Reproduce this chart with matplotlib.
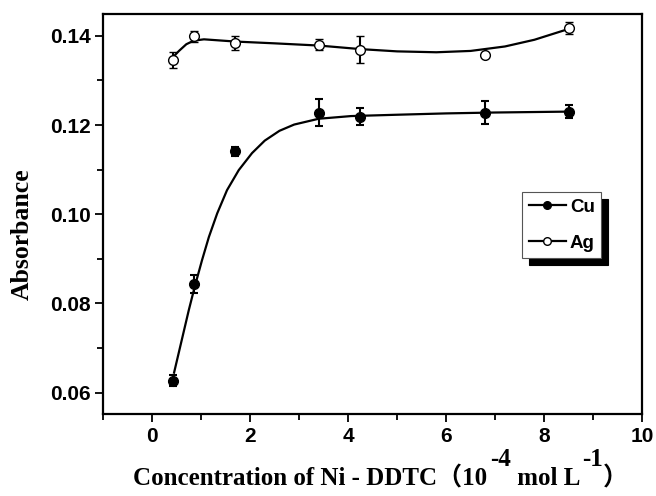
import numpy as np
import matplotlib
matplotlib.use("Agg")
import matplotlib.pyplot as plt
from matplotlib.patches import Shadow

# concentration of Ni-DDTC (1e-4 mol/L)
conc = [0.425, 0.85, 1.7, 3.4, 4.25, 6.8, 8.5]

# measured absorbance with error bars
cu_abs = [0.0627, 0.0843, 0.1141, 0.1228, 0.1219, 0.1228, 0.1230]
cu_err = [0.0012, 0.0020, 0.0010, 0.0030, 0.0020, 0.0025, 0.0015]
ag_abs = [0.1346, 0.1399, 0.1384, 0.1380, 0.1369, 0.1357, 0.1417]
ag_err = [0.0018, 0.0012, 0.0015, 0.0012, 0.0030, 0.0005, 0.0014]

# fitted curves
cu_fit_x = [0.45, 0.6, 0.75, 0.87, 1.02, 1.16, 1.33, 1.53, 1.77, 2.04, 2.3, 2.6,
            2.9, 3.4, 4.06, 5.0, 6.0, 7.0, 8.5]
cu_fit_y = [0.0645, 0.0715, 0.0785, 0.0837, 0.0897, 0.0949, 0.1002, 0.1054, 0.1099,
            0.1137, 0.1165, 0.1187, 0.1201, 0.1214, 0.1220, 0.1223, 0.1226, 0.1228, 0.1230]
ag_fit_x = [0.41, 0.55, 0.7, 0.85, 1.06, 1.7, 2.5, 3.41, 4.26, 5.0, 5.8, 6.5, 7.2, 7.8, 8.52]
ag_fit_y = [0.1350, 0.1366, 0.1381, 0.1389, 0.1392, 0.1387, 0.1383, 0.1378, 0.1370, 0.1365,
            0.1363, 0.1366, 0.1376, 0.1391, 0.1416]

xticks = [0, 2, 4, 6, 8, 10]
yticks = [0.06, 0.08, 0.10, 0.12, 0.14]

serif = ['Liberation Serif', 'Noto Sans CJK SC']
plt.rcParams['font.family'] = ['Liberation Sans', 'DejaVu Sans']
plt.rcParams['font.weight'] = 'bold'

fig = plt.figure(figsize=(6.56, 4.96), dpi=100)
ax = fig.add_axes([0.157, 0.165, 0.822, 0.807])

ax.plot(cu_fit_x, cu_fit_y, color='black', lw=1.6, zorder=2)
ax.plot(ag_fit_x, ag_fit_y, color='black', lw=1.6, zorder=2)
ax.errorbar(conc, cu_abs, yerr=cu_err, fmt='o', color='black', ms=7,
            capsize=3, elinewidth=1.5, capthick=1.5, zorder=3)
ax.errorbar(conc, ag_abs, yerr=ag_err, fmt='o', color='black', mfc='white', mec='black',
            mew=1.0, ms=7, capsize=3, elinewidth=1.5, capthick=1.5, zorder=3)

# legend handles (line + marker)
h_cu, = ax.plot([], [], '-o', color='black', lw=1.6, ms=5.5, label='Cu')
h_ag, = ax.plot([], [], '-o', color='black', mfc='white', mec='black', mew=1.0,
                lw=1.6, ms=5.5, label='Ag')
leg = ax.legend(handles=[h_cu, h_ag], loc='upper left', bbox_to_anchor=(0.777, 0.555),
                borderaxespad=0, fancybox=False, frameon=True, framealpha=1,
                edgecolor='#555555', handlelength=2.0, handletextpad=0.2,
                borderpad=0.35, labelspacing=1.0, prop={'size': 13.5, 'weight': 'bold'})
leg.get_frame().set_linewidth(0.8)
leg.set_zorder(6)

ax.set_xlim(-1, 10)
ax.set_ylim(0.0552, 0.1449)
ax.set_xticks(xticks)
ax.set_yticks(yticks)
ax.set_xticks([-1, 1, 3, 5, 7, 9], minor=True)
ax.set_yticks([0.07, 0.09, 0.11, 0.13], minor=True)
ax.set_yticklabels(['%.2f' % v for v in yticks])
ax.tick_params(which='major', direction='out', length=6, width=1.3, labelsize=15, pad=3)
ax.tick_params(which='minor', direction='out', length=4, width=1.3)
ax.tick_params(top=False, right=False)
for s in ax.spines.values():
    s.set_linewidth(1.6)

ax.set_ylabel('Absorbance', family=serif, fontsize=18.5, fontweight='bold')
ax.yaxis.set_label_coords(-0.128, 0.45)

# x label built from pieces so the exponents sit raised
base_y = 1 - 485 / 496
lbl = dict(family=serif, fontsize=18, fontweight='bold')
t1 = ax.text(0.203, base_y, 'Concentration of Ni - DDTC（10', transform=fig.transFigure,
             va='baseline', ha='left', **lbl)
s1 = ax.annotate('-4', xy=(1, base_y), xycoords=(t1, 'figure fraction'), xytext=(2, 14),
                 textcoords='offset points', va='baseline', ha='left', annotation_clip=False, **lbl)
t2 = ax.annotate(' mol L', xy=(1, base_y), xycoords=(s1, 'figure fraction'), xytext=(0, 0),
                 textcoords='offset points', va='baseline', ha='left', annotation_clip=False, **lbl)
s2 = ax.annotate('-1', xy=(1, base_y), xycoords=(t2, 'figure fraction'), xytext=(1, 14),
                 textcoords='offset points', va='baseline', ha='left', annotation_clip=False, **lbl)
t3 = ax.annotate('）', xy=(1, base_y), xycoords=(s2, 'figure fraction'), xytext=(0, 0),
                 textcoords='offset points', va='baseline', ha='left', annotation_clip=False, **lbl)

# black drop shadow behind legend box
fig.canvas.draw()
sh = Shadow(leg.legendPatch, 5, -5, color='black', alpha=1)
sh.set_zorder(5.5)
ax.add_artist(sh)
sh.set_clip_on(False)

fig.savefig('out.png', dpi=100)
